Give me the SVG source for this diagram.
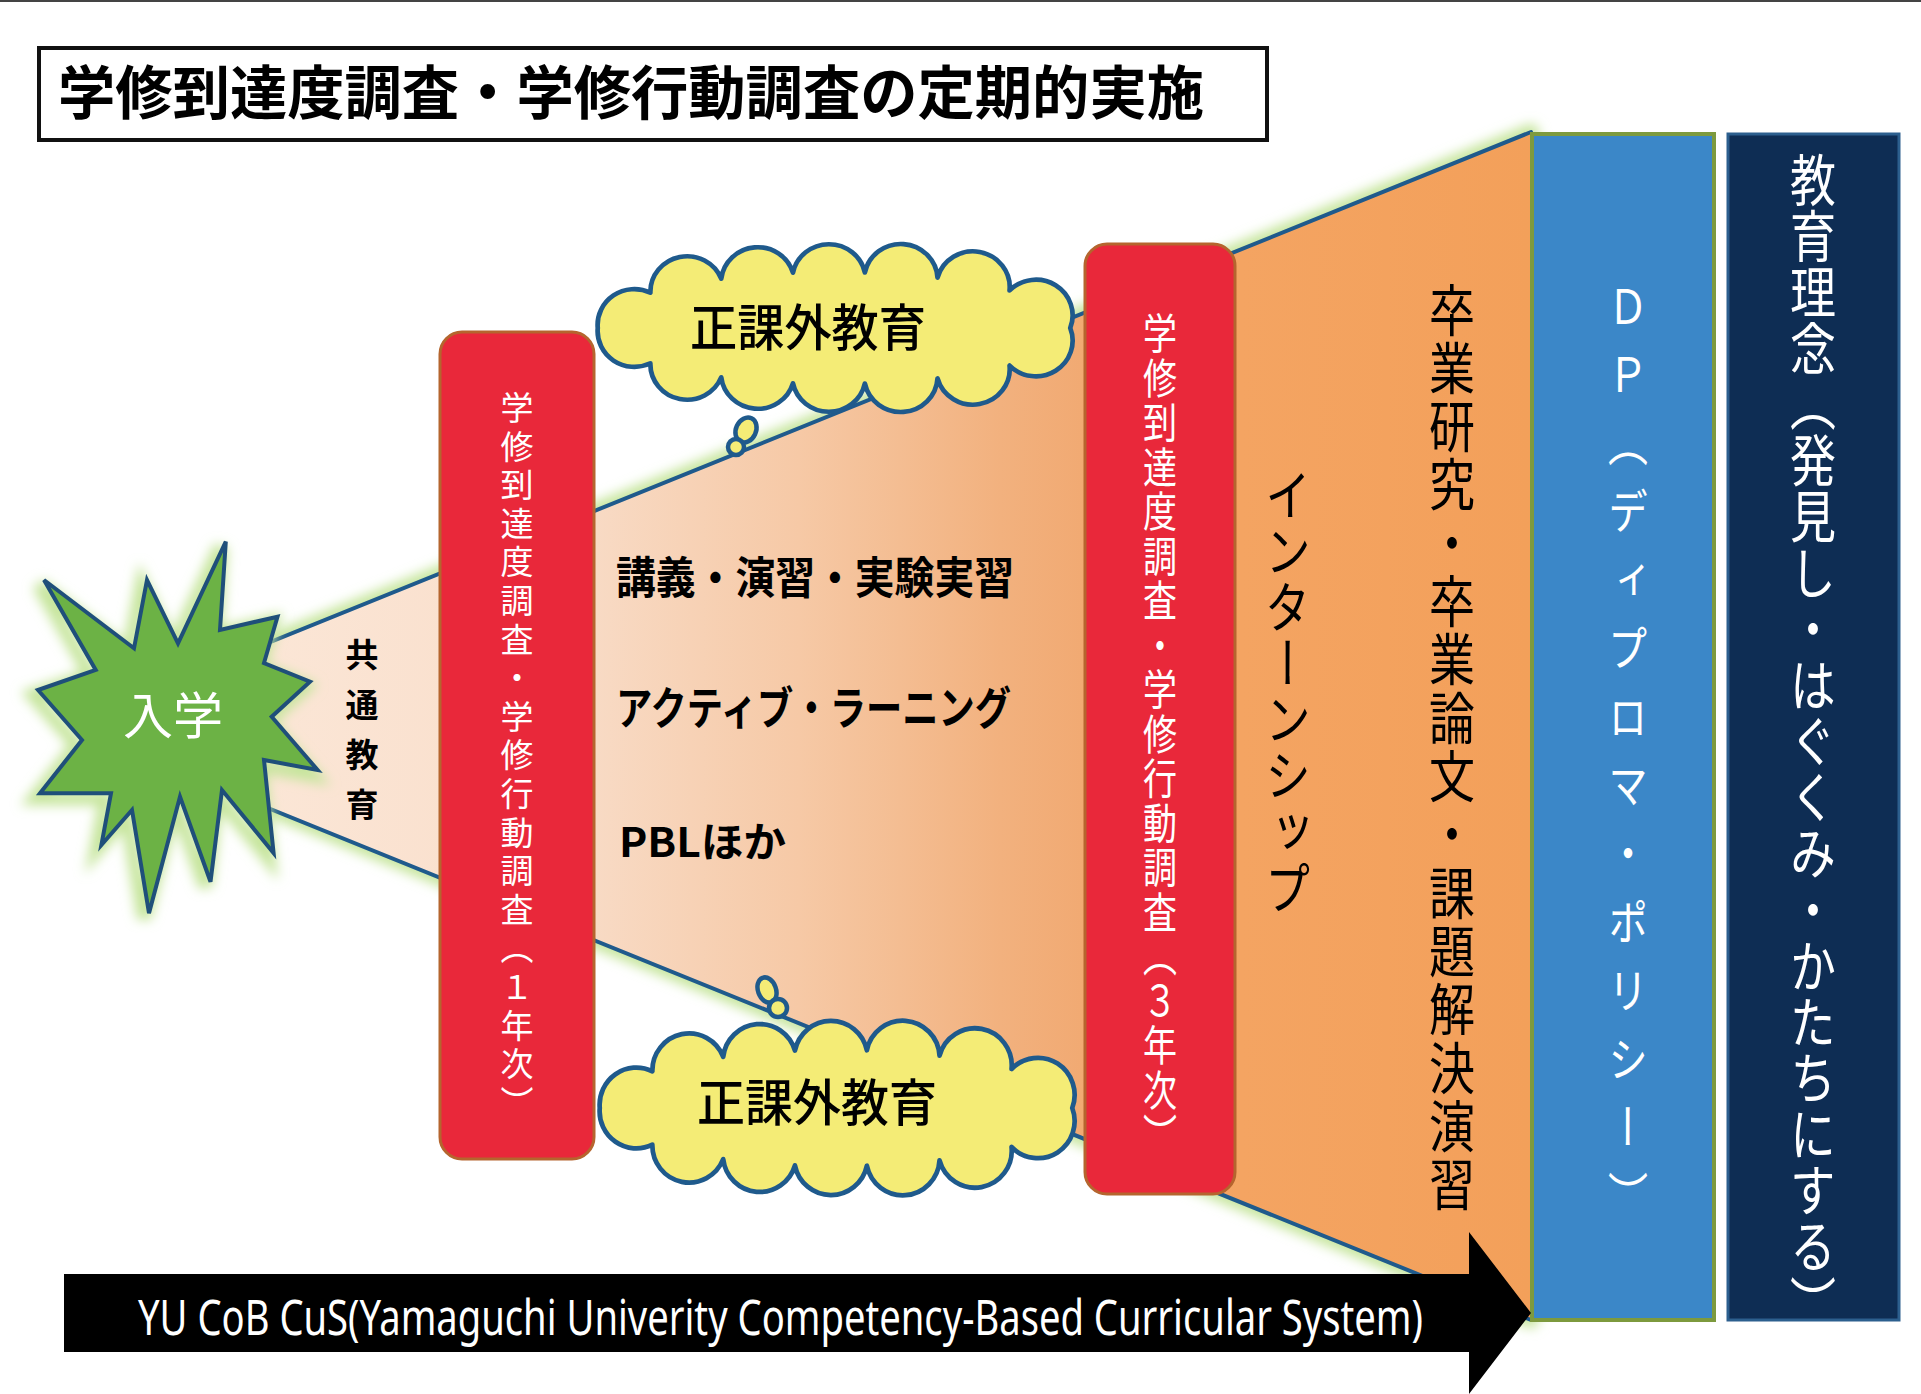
<svg xmlns="http://www.w3.org/2000/svg" xmlns:xlink="http://www.w3.org/1999/xlink" width="1921" height="1394" viewBox="0 0 1921 1394">
<defs>
<style>
.cjk{font-family:"Noto Sans CJK JP","Noto Sans",sans-serif;}
.vt{writing-mode:vertical-rl;text-orientation:mixed;}
.wt{fill:#ffffff;}
.bk{fill:#000000;}
.edge{stroke:#1f5a8c;stroke-width:4;fill:none;stroke-linecap:round;}
.cloud{fill:#f4ec76;stroke:#1f5a8c;stroke-width:4.5;stroke-linejoin:round;}
.redbox{fill:#e9283a;stroke:#b5652e;stroke-width:3;}
.glow{fill:none;stroke:#c6e59c;stroke-width:16;stroke-linejoin:round;}
</style>
<linearGradient id="funnelGrad" gradientUnits="userSpaceOnUse" x1="268" y1="0" x2="1531" y2="0">
<stop offset="0" stop-color="#fbe6d6"/>
<stop offset="0.14" stop-color="#fae1cf"/>
<stop offset="0.26" stop-color="#f8dac4"/>
<stop offset="0.42" stop-color="#f6c9a6"/>
<stop offset="0.58" stop-color="#f2b17e"/>
<stop offset="0.66" stop-color="#f1a870"/>
<stop offset="0.77" stop-color="#f4a462"/>
<stop offset="1" stop-color="#f3a05a"/>
</linearGradient>
<filter id="blur" x="-20%" y="-20%" width="140%" height="140%">
<feGaussianBlur stdDeviation="6"/>
</filter>
<path id="cloudShape" d="M225,0 A35,35 0 0 1 167.2,36.8 A35,35 0 0 1 98.6,49.4 A35,35 0 0 1 29.4,54.5 A35,35 0 0 1 -39.1,54.2 A35,35 0 0 1 -107.4,48.3 A35,35 0 0 1 -174.9,34.6 A35,35 0 0 1 -225,0 A35,35 0 0 1 -174.9,-34.6 A35,35 0 0 1 -107.4,-48.3 A35,35 0 0 1 -39.1,-54.2 A35,35 0 0 1 29.4,-54.5 A35,35 0 0 1 98.6,-49.4 A35,35 0 0 1 167.2,-36.8 A35,35 0 0 1 225,0 Z"/>
<path id="starShape" d="M225.8,541.7 L220,630 L277.5,616.7 L264,663 L310,681.7 L271.7,716.7 L317.6,770 L264,760 L273.6,853 L222,790 L210.5,881.7 L180,796.7 L149,913.3 L132,810 L101.4,845 L111,793.3 L40,793.3 L82,740 L38,690 L95.7,670 L44,580 L134,648.3 L147,580 L178,643.3 Z"/>
</defs>

<rect x="0" y="0" width="1921" height="1394" fill="#ffffff"/>
<line x1="0" y1="1" x2="1921" y2="1" stroke="#444444" stroke-width="2"/>

<g id="title">
<rect x="39" y="48" width="1228" height="92" fill="#ffffff" stroke="#111111" stroke-width="4"/>
<text class="cjk bk" x="58" y="114" font-size="58.5" font-weight="700" textLength="1146" lengthAdjust="spacingAndGlyphs">学修到達度調査・学修行動調査の定期的実施</text>
</g>

<g id="funnel">
<polygon points="230,658.4 1531,132 1531,1320 230,792.6" class="glow" filter="url(#blur)"/>
<polygon points="230,658.4 1531,132 1531,1320 230,792.6" fill="url(#funnelGrad)"/>
<line x1="230" y1="658.4" x2="1531" y2="132" class="edge"/>
<line x1="230" y1="792.6" x2="1531" y2="1320" class="edge"/>
</g>

<g id="common-edu">
<text class="cjk vt bk" x="362" y="638" font-size="33" font-weight="700" letter-spacing="17">共通教育</text>
</g>

<g id="entrance">
<use xlink:href="#starShape" href="#starShape" fill="none" stroke="#c6e59c" stroke-width="14" filter="url(#blur)" transform="translate(-5,5)"/>
<use xlink:href="#starShape" href="#starShape" fill="#6cb245" stroke="#1f4f7a" stroke-width="4" stroke-linejoin="miter"/>
<text class="cjk wt" x="173" y="734" font-size="50" text-anchor="middle">入学</text>
</g>

<g id="survey-1">
<rect x="440" y="332" width="154" height="827" rx="22" ry="22" class="redbox"/>
<text class="cjk vt wt" x="517" y="391" font-size="33" letter-spacing="5.6">学修到達度調査・学修行動調査（１年次）</text>
</g>

<g id="cloud-top">
<use xlink:href="#cloudShape" href="#cloudShape" class="cloud" transform="translate(834,328) scale(1.05,1.02)"/>
<ellipse cx="746" cy="430" rx="10" ry="13" transform="rotate(25 746 430)" class="cloud" stroke-width="3"/>
<ellipse cx="736" cy="447" rx="8" ry="8" class="cloud" stroke-width="3"/>
<text class="cjk bk" x="690" y="346" font-size="50" font-weight="500" textLength="236" lengthAdjust="spacingAndGlyphs">正課外教育</text>
</g>

<g id="cloud-bottom">
<ellipse cx="767" cy="990" rx="9" ry="13" transform="rotate(-20 767 990)" class="cloud" stroke-width="3"/>
<ellipse cx="778" cy="1008" rx="9" ry="9" class="cloud" stroke-width="3"/>
<use xlink:href="#cloudShape" href="#cloudShape" class="cloud" transform="translate(836,1108) scale(1.05,1.06)"/>
<text class="cjk bk" x="697" y="1121" font-size="50" font-weight="500" textLength="240" lengthAdjust="spacingAndGlyphs">正課外教育</text>
</g>

<g id="courses">
<text class="cjk bk" x="616" y="594" font-size="44" font-weight="700" textLength="398" lengthAdjust="spacingAndGlyphs">講義・演習・実験実習</text>
<text class="cjk bk" x="616" y="725" font-size="45" font-weight="600" textLength="395" lengthAdjust="spacingAndGlyphs">アクティブ・ラーニング</text>
<text class="cjk bk" x="619" y="857" font-size="41" font-weight="700" textLength="167" lengthAdjust="spacingAndGlyphs">PBLほか</text>
</g>

<g id="survey-3">
<rect x="1085" y="244" width="150" height="950" rx="22" ry="22" class="redbox"/>
<text class="cjk vt wt" transform="translate(1160,312) scale(1,1.25)" x="0" y="0" font-size="34" letter-spacing="1.6">学修到達度調査・学修行動調査（３年次）</text>
</g>

<g id="internship">
<text class="cjk vt bk" transform="translate(1288,467) scale(1,1.2)" x="0" y="0" font-size="46" letter-spacing="0.8">インターンシップ</text>
</g>

<g id="graduation">
<text class="cjk vt bk" transform="translate(1452,282) scale(1,1.2)" x="0" y="0" font-size="46" letter-spacing="2.6">卒業研究・卒業論文・課題解決演習</text>
</g>

<g id="dp">
<rect x="1532" y="134" width="182" height="1186" fill="#3b87c8" stroke="#7d9a3e" stroke-width="4"/>
<text class="cjk vt wt" transform="translate(1628,282) scale(1,1.2)" x="0" y="0" font-size="40" letter-spacing="17">ＤＰ（ディプロマ・ポリシー）</text>
</g>

<g id="philosophy">
<rect x="1728" y="134" width="171" height="1186" fill="#0e2d54" stroke="#2c5f8e" stroke-width="3"/>
<text class="cjk vt wt" transform="translate(1813,152) scale(1,1.2)" x="0" y="0" font-size="46" letter-spacing="0.8">教育理念（発見し・はぐくみ・かたちにする）</text>
</g>

<g id="connectors">
<g id="arrow-cus">
<polygon points="64,1274 1469,1274 1469,1232 1531,1313 1469,1394 1469,1352 64,1352" fill="#000000"/>
<text x="138" y="1335" font-family="Noto Sans, Liberation Sans, sans-serif" font-size="50" fill="#ffffff" textLength="1285" lengthAdjust="spacingAndGlyphs">YU CoB CuS(Yamaguchi Univerity Competency-Based Curricular System)</text>
</g>
</g>
</svg>
